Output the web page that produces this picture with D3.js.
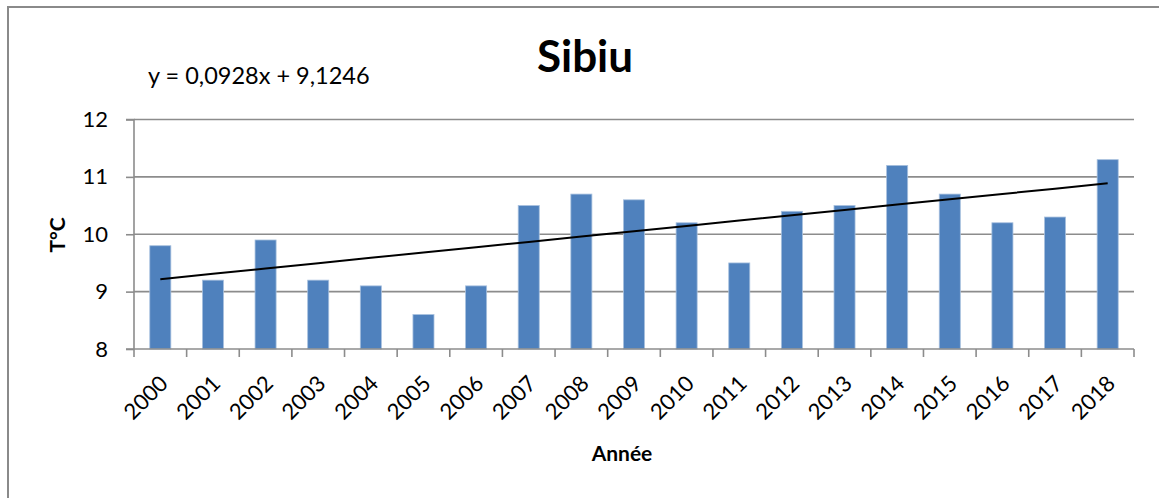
<!DOCTYPE html>
<html>
<head>
<meta charset="utf-8">
<script src="https://cdn.jsdelivr.net/npm/d3@7"></script>
<style>
  body { margin: 0; background: #fff; }
  text { font-family: Lato, "Open Sans", sans-serif; fill: #000; }
</style>
</head>
<body>
<script>
// data
var years = ["2000", "2001", "2002", "2003", "2004", "2005", "2006", "2007", "2008", "2009",
             "2010", "2011", "2012", "2013", "2014", "2015", "2016", "2017", "2018"];
var temps = [9.8, 9.2, 9.9, 9.2, 9.1, 8.6, 9.1, 10.5, 10.7, 10.6,
             10.2, 9.5, 10.4, 10.5, 11.2, 10.7, 10.2, 10.3, 11.3];
var yTicks = [8, 9, 10, 11, 12];
var trendSlope = 0.0928;
var trendIntercept = 9.1246;

var svgWidth = 1159;
var svgHeight = 498;

var svg = d3.select("body").append("svg")
    .attr("width", svgWidth)
    .attr("height", svgHeight);

// chart border
svg.append("rect")
    .attr("x", 8).attr("y", 7)
    .attr("width", 1170).attr("height", 520)
    .attr("fill", "none")
    .attr("stroke", "#8a8a8a")
    .attr("stroke-width", 2);

var plot = { left: 134, right: 1134, top: 119.5, bottom: 349 };

var x = d3.scaleBand()
    .domain(years)
    .range([plot.left, plot.right])
    .paddingInner(0.6)
    .paddingOuter(0.3);

var xEdge = d3.scaleLinear()
    .domain([0, years.length])
    .range([plot.left, plot.right]);

var y = d3.scaleLinear()
    .domain([8, 12])
    .range([plot.bottom, plot.top]);

// gridlines
svg.append("g").selectAll("line")
    .data(yTicks.slice(1))
    .enter().append("line")
    .attr("x1", plot.left).attr("x2", plot.right)
    .attr("y1", d => y(d)).attr("y2", d => y(d))
    .attr("stroke", "#8c8c8c")
    .attr("stroke-width", 1.6);

// bars
svg.append("g").selectAll("rect")
    .data(temps)
    .enter().append("rect")
    .attr("x", (d, i) => x(years[i]))
    .attr("y", d => y(d))
    .attr("width", x.bandwidth())
    .attr("height", d => y(8) - y(d))
    .attr("fill", "#4f81bd")
    .attr("stroke", "#a7c0de")
    .attr("stroke-width", 0.8);

// trend line
var trend = years.map((yr, i) => [x(yr) + x.bandwidth() / 2, trendIntercept + trendSlope * (i + 1)]);
svg.append("path")
    .datum(trend)
    .attr("d", d3.line().x(d => d[0]).y(d => y(d[1])))
    .attr("fill", "none")
    .attr("stroke", "#000")
    .attr("stroke-width", 2);

// y axis
var leftAxis = d3.axisLeft(y).tickValues(yTicks).tickFormat(d3.format("d")).tickSize(8).tickPadding(18);
var gy = svg.append("g").attr("transform", `translate(${plot.left}, 0)`).call(leftAxis);
gy.select(".domain").attr("stroke", "#8c8c8c").attr("stroke-width", 1.6).attr("d", `M-8,${plot.top}H0V${plot.bottom}`);
gy.selectAll(".tick line").attr("stroke", "#8c8c8c").attr("stroke-width", 1.6);
gy.selectAll(".tick text").attr("font-size", 22).attr("font-family", "Lato, 'Open Sans', sans-serif").attr("fill", "#000");

// x axis: ticks at category edges
var gx = svg.append("g");
gx.append("line")
    .attr("x1", plot.left - 8).attr("x2", plot.right)
    .attr("y1", plot.bottom).attr("y2", plot.bottom)
    .attr("stroke", "#8c8c8c").attr("stroke-width", 1.6);
gx.selectAll("line.tk")
    .data(d3.range(years.length + 1))
    .enter().append("line")
    .attr("class", "tk")
    .attr("x1", d => xEdge(d)).attr("x2", d => xEdge(d))
    .attr("y1", plot.bottom).attr("y2", plot.bottom + 8)
    .attr("stroke", "#8c8c8c").attr("stroke-width", 1.6);
gx.selectAll("text")
    .data(years)
    .enter().append("text")
    .attr("transform", d => `translate(${x(d) + x.bandwidth() / 2 - 2}, ${plot.bottom + 25}) rotate(-45)`)
    .attr("text-anchor", "end")
    .attr("dy", "0.7em")
    .attr("font-size", 22)
    .text(d => d);

// title
svg.append("text")
    .attr("x", 585).attr("y", 72)
    .attr("text-anchor", "middle")
    .attr("font-size", 44)
    .attr("font-weight", "bold")
    .text("Sibiu");

// trend equation
svg.append("text")
    .attr("x", 148).attr("y", 84)
    .attr("font-size", 23.5)
    .text("y = 0,0928x + 9,1246");

// axis titles
svg.append("text")
    .attr("transform", "translate(65, 235) rotate(-90)")
    .attr("text-anchor", "middle")
    .attr("font-size", 21)
    .attr("font-weight", "bold")
    .text("T°C");

svg.append("text")
    .attr("x", 622).attr("y", 461)
    .attr("text-anchor", "middle")
    .attr("font-size", 21)
    .attr("font-weight", "bold")
    .text("Année");
</script>
</body>
</html>
